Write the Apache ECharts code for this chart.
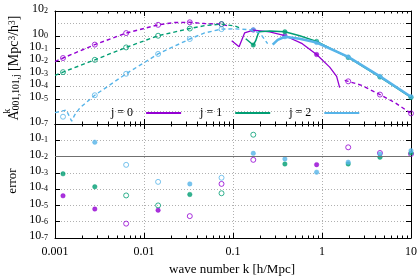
<!DOCTYPE html>
<html><head><meta charset="utf-8">
<script src="https://cdn.jsdelivr.net/npm/echarts@6/dist/echarts.min.js"></script>
<style>html,body{margin:0;padding:0;background:#fff}#c{width:420px;height:280px}</style>
</head><body><div id="c"></div>
<script>
// ---------- ticks and labels ----------
const xTickLabels = ['0.001', '0.01', '0.1', '1', '10'];
const yTopTicks = [1e-7, 1e-6, 1e-5, 1e-4, 1e-3, 1e-2, 1e-1, 1, 1e1, 1e2];
const yBotTicks = [1e-7, 1e-6, 1e-5, 1e-4, 1e-3, 1e-2, 1e-1, 1];
const yBotLabels = [1e-7, 1e-6, 1e-5, 1e-4, 1e-3, 1e-2, 1e-1];
const legendNames = ['j = 0', 'j = 1', 'j = 2'];
const errRef = 0.01;

// ---------- top panel curves (k, A) ----------
const j0DashK = [0.001, 0.00123, 0.0028, 0.0063, 0.0144, 0.022, 0.0327, 0.048, 0.0743, 0.087];
const j0DashA = [0.0093, 0.018, 0.21, 1.74, 7.9, 12, 12.6, 10, 9, 6.6];
const j0SolidK = [0.0967, 0.117, 0.135, 0.169, 0.258, 0.383, 0.6, 0.87, 1.22, 1.46, 1.58];
const j0SolidA = [0.43, 0.144, 1.8, 3.0, 2.2, 1.07, 0.25, 0.034, 0.0034, 6.2e-4, 7.9e-5];
const j0Dash2K = [1.80, 1.97, 2.79, 4.48, 6.73, 10];
const j0Dash2A = [3.0e-4, 2.5e-4, 1.2e-4, 2.2e-5, 4.6e-6, 7e-7];

const j1DashK = [0.001, 0.00123, 0.0028, 0.0063, 0.0144, 0.0327, 0.048, 0.0743, 0.104, 0.119];
const j1DashA = [7.4e-4, 1.35e-3, 0.0129, 0.126, 1.07, 4.0, 6.8, 9.0, 6.5, 4.6];
const j1SolidK = [0.139, 0.169, 0.18, 0.195, 0.258, 0.383, 0.562, 0.87, 1.97, 4.48, 10];
const j1SolidA = [0.62, 0.195, 0.43, 2.2, 2.6, 2.2, 1.07, 0.38, 0.020, 5.5e-4, 1.3e-5];

const j2DashK = [0.001, 0.00113, 0.00134, 0.00146, 0.00154, 0.00166, 0.0019, 0.0028, 0.0063, 0.0144, 0.0327, 0.048, 0.0743, 0.104, 0.155, 0.2, 0.245];
const j2DashA = [8.1e-7, 9.7e-7, 1.3e-6, 3.6e-7, 1.7e-7, 5.1e-7, 1.9e-6, 1.95e-5, 1e-3, 0.038, 0.59, 1.8, 3.6, 3.8, 3.2, 1.8, 0.25];
const j2SolidK = [0.279, 0.318, 0.383, 0.562, 0.87, 1.97, 4.48, 10];
const j2SolidA = [0.21, 0.51, 0.89, 0.62, 0.31, 0.022, 6.2e-4, 1.5e-5];

// ---------- top panel markers ----------
const j0OpenK = [0.00123, 0.0028, 0.0063, 0.0144, 0.0327, 0.0743, 1.97, 4.48, 10];
const j0OpenA = [0.018, 0.21, 1.74, 7.9, 12.6, 9, 2.5e-4, 2.2e-5, 7e-7];
const j0FillK = [0.169, 0.383, 0.87];
const j0FillA = [3.0, 1.07, 0.034];
const j1OpenK = [0.00123, 0.0028, 0.0063, 0.0144, 0.0327, 0.0743];
const j1OpenA = [1.35e-3, 0.0129, 0.126, 1.07, 4.0, 9];
const j1FillK = [0.169, 0.383, 0.87, 1.97, 4.48, 10];
const j1FillA = [0.195, 2.2, 0.38, 0.020, 5.5e-4, 1.3e-5];
const j2OpenK = [0.00123, 0.0028, 0.0063, 0.0144, 0.0327, 0.0743];
const j2OpenA = [3.8e-7, 1.95e-5, 1e-3, 0.038, 0.59, 3.6];
const j2FillK = [0.169, 0.383, 0.87, 1.97, 4.48, 10];
const j2FillA = [3.2, 0.89, 0.31, 0.022, 6.2e-4, 1.5e-5];

// ---------- bottom panel errors ----------
const e0FillK = [0.00123, 0.0028, 0.0144, 0.87];
const e0FillV = [3.9e-5, 6.0e-6, 5.1e-6, 3.2e-3];
const e0OpenK = [0.0063, 0.0327, 0.0743, 0.169, 1.97, 4.48, 10];
const e0OpenV = [7.6e-7, 2.2e-6, 2.1e-4, 6.3e-3, 0.037, 0.0166, 0.0145];
const e1FillK = [0.00123, 0.0028, 0.0327, 0.383, 1.97, 4.48, 10];
const e1FillV = [8.7e-4, 1.4e-4, 4.7e-5, 3.5e-3, 3.5e-3, 9.1e-3, 0.0166];
const e1OpenK = [0.0063, 0.0144, 0.0743, 0.169];
const e1OpenV = [4.1e-5, 1e-5, 5.6e-5, 0.22];
const e2FillK = [0.0028, 0.0327, 0.169, 0.383, 0.87, 1.97, 4.48, 10];
const e2FillV = [0.076, 2.1e-4, 0.0158, 7.2e-3, 1.1e-3, 4.5e-3, 0.0145, 0.023];
const e2OpenK = [0.0063, 0.0144, 0.0743];
const e2OpenV = [3.1e-3, 2.8e-4, 5.0e-4];

const C0 = '#9400d3', C1 = '#009e73', C2 = '#56b4e9';
const FONT = 'Liberation Serif';

function zip(a, b) { return a.map((v, i) => [v, b[i]]); }
function line(name, k, a, color, width, dashed) {
  return { type: 'line', name: name, xAxisIndex: 0, yAxisIndex: 0, data: zip(k, a),
    showSymbol: false, symbol: 'none', silent: true,
    lineStyle: { color: color, width: width, type: dashed ? [4, 3] : 'solid' },
    itemStyle: { color: color } };
}
function pts(k, a, color, open, top) {
  return { type: 'scatter', xAxisIndex: top ? 0 : 2, yAxisIndex: top ? 0 : 2, data: zip(k, a),
    symbol: 'circle', symbolSize: open ? 5 : 4.5, silent: true,
    itemStyle: open ? { color: 'rgba(255,255,255,0)', borderColor: color, borderWidth: 1 }
                    : { color: color, borderColor: color, borderWidth: 0.5 } };
}
// compact rich-text box (11 px high) so neighbouring decade labels do not count as overlapping
const supRich = {
  b: { fontFamily: FONT, fontSize: 12, color: '#000', lineHeight: 8, padding: [3, 0, 0, 0], verticalAlign: 'bottom' },
  s: { fontFamily: FONT, fontSize: 8, color: '#000', lineHeight: 5, verticalAlign: 'top' }
};
function expLabel(v) { const e = Math.round(Math.log10(v)); return '{b|10}{s|' + e + '}'; }

function xAx(grid, pos, labels, split) {
  return { type: 'log', logBase: 10, gridIndex: grid, position: pos, min: 0.001, max: 10,
    axisLine: { show: true, onZero: false, lineStyle: { color: '#000', width: 1 } },
    axisTick: { show: true, inside: true, length: 5, lineStyle: { color: '#000' } },
    minorTick: { show: true, splitNumber: 9, length: 2.5, lineStyle: { color: '#000' } },
    splitLine: { show: split, lineStyle: { color: '#b0b0b0', type: [1, 2], width: 1 } },
    axisLabel: { show: labels, margin: 8, fontFamily: FONT, fontSize: 12, color: '#000',
      showMinLabel: true, showMaxLabel: true,
      formatter: function (v) { return xTickLabels[Math.round(Math.log10(v)) + 3]; } } };
}
function yAx(grid, pos, min, max, ticks, labelVals, labels, split) {
  return { type: 'log', logBase: 10, gridIndex: grid, position: pos, min: min, max: max,
    axisLine: { show: true, onZero: false, lineStyle: { color: '#000', width: 1 } },
    axisTick: { show: true, inside: true, length: 5, customValues: ticks, lineStyle: { color: '#000' } },
    splitLine: { show: split, lineStyle: { color: '#b0b0b0', type: [1, 2], width: 1 } },
    axisLabel: { show: labels, margin: 7, rich: supRich, customValues: labelVals, formatter: expLabel,
      showMinLabel: true, showMaxLabel: true, hideOverlap: false } };
}

const chart = echarts.init(document.getElementById('c'), null, { renderer: 'canvas' });
const errSeries = pts(e0FillK, e0FillV, C0, false, false);
errSeries.markLine = { silent: true, symbol: 'none', label: { show: false },
  lineStyle: { color: '#707070', type: 'solid', width: 1 }, data: [{ yAxis: errRef }] };

chart.setOption({
  animation: false,
  backgroundColor: '#fff',
  grid: [
    { left: 55, right: 9, top: 10, height: 114 },
    { left: 55, right: 9, top: 124, height: 114 }
  ],
  xAxis: [xAx(0, 'bottom', false, true), xAx(0, 'top', false, false), xAx(1, 'bottom', true, true), xAx(1, 'top', false, false)],
  yAxis: [yAx(0, 'left', 1e-7, 1e2, yTopTicks, yTopTicks, true, true), yAx(0, 'right', 1e-7, 1e2, yTopTicks, yTopTicks, false, false),
          yAx(1, 'left', 1e-7, 1, yBotTicks, yBotLabels, true, true), yAx(1, 'right', 1e-7, 1, yBotTicks, yBotLabels, false, false)],
  legend: { left: 111, top: 107, padding: 0, itemGap: 19, itemWidth: 35, itemHeight: 2, icon: 'rect', align: 'right',
    selectedMode: false, data: legendNames,
    textStyle: { fontFamily: FONT, fontSize: 12, color: '#000', padding: [0, 8, 0, 0] } },
  graphic: [
    { type: 'text', x: 14, y: 68, rotation: Math.PI / 2, silent: true,
      style: { text: '{a|A}{sub|001,101,j}{a| [Mpc}{sup|3}{a|/h}{sup|3}{a|]}', align: 'center', verticalAlign: 'middle',
        rich: { a: { fontFamily: FONT, fontSize: 14, lineHeight: 14, padding: [4, 0, 4, 0], color: '#000', verticalAlign: 'middle' },
                sub: { fontFamily: FONT, fontSize: 9.5, lineHeight: 9, color: '#000', verticalAlign: 'bottom' },
                sup: { fontFamily: FONT, fontSize: 9.5, lineHeight: 9, color: '#000', verticalAlign: 'top' } } } },
    { type: 'text', x: 7.5, y: 111, rotation: Math.PI / 2, silent: true,
      style: { text: 'k', align: 'center', verticalAlign: 'middle', fontFamily: FONT, fontSize: 9.5, fill: '#000' } },
    { type: 'text', x: 13, y: 181, rotation: Math.PI / 2, silent: true,
      style: { text: 'error', align: 'center', verticalAlign: 'middle', fontFamily: FONT, fontSize: 13, fill: '#000' } },
    { type: 'text', x: 232, y: 270, silent: true,
      style: { text: 'wave number k [h/Mpc]', align: 'center', verticalAlign: 'middle', fontFamily: FONT, fontSize: 13, fill: '#000' } }
  ],
  series: [
    line('j0a', j0DashK, j0DashA, C0, 1.4, true),
    line('j = 0', j0SolidK, j0SolidA, C0, 1.3, false),
    line('j0b', j0Dash2K, j0Dash2A, C0, 1.4, true),
    pts(j0OpenK, j0OpenA, C0, true, true),
    pts(j0FillK, j0FillA, C0, false, true),
    line('j1a', j1DashK, j1DashA, C1, 1.4, true),
    line('j = 1', j1SolidK, j1SolidA, C1, 1.5, false),
    pts(j1OpenK, j1OpenA, C1, true, true),
    pts(j1FillK, j1FillA, C1, false, true),
    line('j2a', j2DashK, j2DashA, C2, 1.4, true),
    line('j = 2', j2SolidK, j2SolidA, C2, 2.5, false),
    pts(j2OpenK, j2OpenA, C2, true, true),
    pts(j2FillK, j2FillA, C2, false, true),
    errSeries,
    pts(e0OpenK, e0OpenV, C0, true, false),
    pts(e1FillK, e1FillV, C1, false, false),
    pts(e1OpenK, e1OpenV, C1, true, false),
    pts(e2FillK, e2FillV, C2, false, false),
    pts(e2OpenK, e2OpenV, C2, true, false)
  ]
});
</script></body></html>
